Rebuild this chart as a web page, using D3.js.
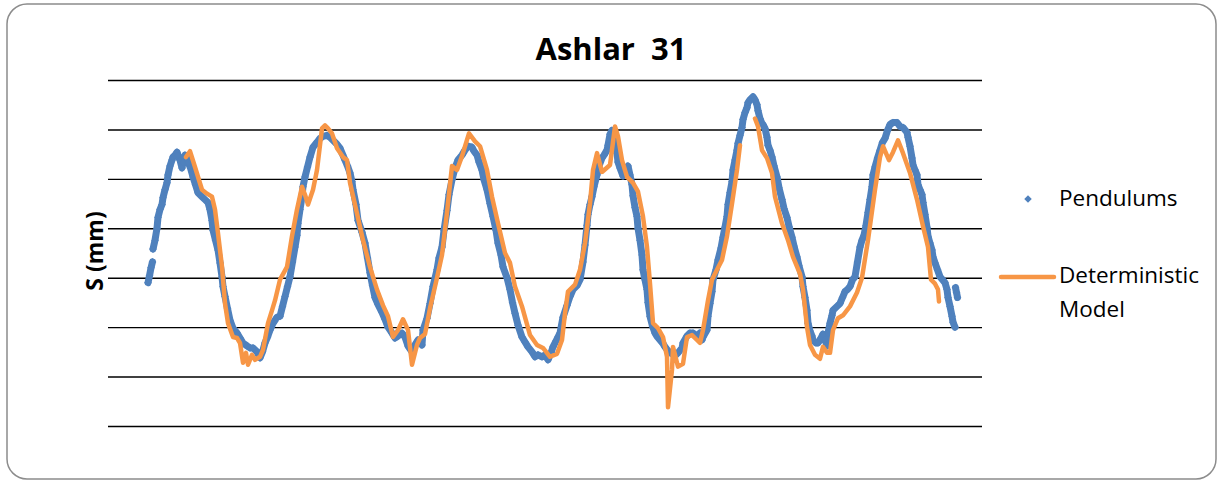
<!DOCTYPE html>
<html>
<head>
<meta charset="utf-8">
<script src="https://cdn.jsdelivr.net/npm/d3@7"></script>
<style>
  body { margin: 0; background: #fff; }
  svg { display: block; }
</style>
</head>
<body>
<div id="chart"></div>
<script>
// Chart text
const chartTitle = "Ashlar  31";
const yLabel = "S (mm)";
const seriesNames = ["Pendulums", "Deterministic Model"];

// Value axis gridlines (no tick labels shown in the original)
const gridTicks = [-200, -150, -100, -50, 0, 50, 100, 150];
const timeDomain = [0, 874];

// Pendulum readings (scatter) - null marks a gap between clusters
const pendT = [40, 41.5, 43, 44.5, 44.7, 45, 47, 49, 50, 52, 54, 55, 57, 59, 60, 62, 64, 65, 67, 69,
  70, 72, 74, 75, 77, 79, 80, 82.5, 85, 87.5, 90, 94, 97, 100, 102, 104, 105, 107.5, 110, 112,
  114, 115, 117, 119.5, 122, 125, 129, 132, 135, 139, 142, 145, 149, 152, 154.5, 157, 159.5, 162, 165, 169,
  172, 174.5, 177, 179.5, 182, 184.5, 187, 189, 190, 192, 194, 195, 197, 199.5, 202, 205, 209, 212, 215, 219,
  222, 225, 229, 232, 234.5, 237, 239.5, 242, 244, 245, 248, 250, 254, 257, 259.5, 262, 264.5, 267, 270, 274,
  277, 280, 284, 287, 290, 294, 297, 300, 304, 307, 310, 314, 315, 319, 322, 325, 329, 331, 334, 336,
  339, 341, 344, 347, 350, 354, 357, 360, 364, 366, 369, 371, 374, 376, 379, 382, 385, 388, 390, 393,
  395, 399, 402, 404.5, 407, 410, 414, 417, 420, 424, 427, 430, 434, 437, 440, 443, 445, 448, 450, 452,
  455, 459, 462, 465, 469, 472, 475, 477, 479, 480, 482, 484, 486, 489, 491, 494, 496, 499, 500, 502,
  504, 505, 507, 509, 510, 512, 515, 520, 522, 524, 525, 527, 529, 530, 532, 534, 535, 537, 539, 540,
  542, 544.5, 547, 549.5, 552, 554.5, 557, 560, 564, 567, 570, 574, 575, 579, 582, 585, 589, 592, 594, 595,
  599, 600, 602, 604, 605, 608, 610, 613, 615, 617, 619, 620, 622, 624, 625, 627, 629, 630, 632, 634,
  635, 637, 639, 640, 642, 644, 645, 647, 649, 650, 652, 654, 655, 657, 659, 660, 662, 664, 666, 669,
  671, 674, 676, 679, 681, 684, 686, 689, 691, 694, 695, 697, 699, 700, 702, 704, 705, 708, 710, 713,
  715, 717, 719, 720, 722, 724, 725, 729, 732, 734.5, 737, 739.5, 742, 744.5, 747, 749.5, 752, 754, 756, 758,
  760, 762, 764, 765, 767, 769.5, 772, 774.5, 777, 779.5, 782, 785, 789, 792, 795, 799, 800, 802, 804, 805,
  807, 809, 810, 812, 814, 815, 817, 819, 820, 822, 824, 825, 827, 829.5, 832, 834.5, 837, 839, 840, 842,
  844, 845, 847, 847.2, 847.5, 848.5, 849.5];
const pendS = [-55, -48, -40, -34, null, -21, -12, 0, 11, 19, 24, 31, 39, 46, 54, 63, 69, 72, 74, 77,
  74, 69, 61, 67, 74, 72, 67, 61, 52, 44, 36, 32, 29, 26, 19, 8, -2, -12, -22, -35,
  -49, -59, -69, -81, -93, -101, -106, -111, -116, -119, -121, -121, -125, -131, -125, -116, -110, -103, -96, -90,
  -89, -79, -69, -59, -49, -34, -19, -7, 5, 19, 32, 42, 52, 62, 72, 82, 87, 91, 93, 94,
  92, 89, 85, 81, 75, 69, 63, 56, 47, 39, 24, 8, -4, -15, -30, -45, -58, -70, -77, -85,
  -92, -100, -106, -111, -109, -106, -110, -119, -125, -118, -113, -118, -103, -91, -76, -59, -42, -30, -19, -2,
  18, 34, 49, 61, 69, 74, 79, 83, 82, 78, 74, 67, 59, 49, 39, 25, 12, -2, -15, -27,
  -39, -50, -62, -75, -86, -98, -110, -115, -120, -125, -130, -128, -130, -128, -133, -126, -120, -114, -110, -106,
  -90, -78, -69, -62, -58, -52, -34, -17, 3, 14, 24, 32, 42, 54, 63, 71, 74, 79, 84, 95,
  99, 97, 87, 76, 67, 61, 53, 63, 54, 44, 33, 21, 12, 0, -12, -27, -42, -52, -62, -75,
  -89, -99, -106, -110, -113, -116, -120, -124, -127, -129, -126, -121, -116, -109, -106, -106, -109, -106, -113, -110,
  -103, -89, -76, -64, -52, -42, -32, -20, -9, 1, 12, 24, 36, 47, 59, 69, 79, 86, 94, 102,
  110, 117, 122, 127, 130, 132, 133, 130, 125, 119, 111, 106, 105, 101, 92, 84, 79, 72, 63, 52,
  41, 29, 20, 11, 2, -9, -18, -29, -38, -49, -59, -70, -83, -96, -104, -109, -113, -116, -116, -111,
  -107, -113, -119, -106, -96, -88, -83, -79, -76, -70, -64, -62, -59, -52, -49, -34, -19, -12, -7, 3,
  16, 29, 42, 54, 62, 71, 79, 87, 91, 99, 105, 107, 107, 103, 102, 97, 92, 83, 71, 64,
  59, 54, 44, 39, 34, 26, 14, 1, -8, -15, -22, -29, -35, -42, -49, -52, -55, -62, -70, -79,
  -89, -95, -100, null, -60, -65, -70];

// Deterministic model - null marks the missing stretch near the 5th peak
const modelT = [78, 82, 87, 94, 99, 104, 107, 110, 114, 117, 120, 125, 129, 132, 135, 138, 140, 144, 147, 152,
  155, 160, 164, 167, 172, 179, 184, 189, 194, 197, 200, 205, 209, 214, 217, 220, 224, 229, 235, 239,
  242, 249, 255, 262, 269, 275, 280, 285, 290, 295, 300, 304, 309, 312, 317, 322, 329, 334, 339, 344,
  349, 354, 361, 367, 372, 379, 384, 390, 397, 402, 407, 414, 422, 429, 435, 442, 449, 454, 457, 460,
  467, 472, 477, 482, 485, 489, 494, 502, 507, 510, 514, 519, 525, 530, 535, 539, 542, 545, 550, 555,
  559, 560, 564, 565, 570, 575, 579, 584, 589, 592, 595, 600, 604, 609, 614, 619, 624, 629, 632, 640,
  647, 650, 654, 659, 664, 667, 674, 680, 685, 692, 695, 699, 702, 707, 712, 715, 719, 722, 725, 730,
  735, 742, 749, 754, 760, 767, 772, 775, 781, 785, 790, 795, 802, 809, 815, 820, 823, 827, 830, 831];
const modelS = [72, 78, 62, 39, 35, 32, 19, -5, -39, -76, -96, -110, -111, -116, -136, -126, -138, -128, -133, -130,
  -123, -96, -83, -73, -52, -39, -8, 19, 42, 34, 24, 39, 59, 101, 104, 101, 96, 81, 72, 69,
  46, 15, -12, -39, -62, -78, -89, -110, -103, -92, -103, -138, -118, -111, -107, -81, -50, -27, 16, 63,
  59, 73, 96, 88, 83, 59, 32, 5, -25, -35, -59, -79, -108, -118, -121, -130, -127, -113, -86, -64,
  -57, -42, -15, 25, 59, 76, 57, 64, 103, 93, 69, 52, 46, 37, 12, -19, -56, -96, -101, -110,
  -130, -181, -143, -120, -140, -137, -110, -108, -113, -116, -103, -73, -52, -42, -32, -8, 25, 59, 84, null,
  111, 103, 79, 71, 56, 32, 5, -12, -29, -46, -62, -100, -118, -128, -132, -120, -126, -126, -103, -91,
  -88, -79, -65, -50, -12, 39, 72, 83, 69, 77, 89, 76, 56, 29, 2, -19, -52, -56, -62, -74];

const colors = { pend: "#4f81bd", model: "#f79646", grid: "#000", frame: "#8c8c8c" };

const width = 1219, height = 481;
const plot = { left: 108, right: 982, top: 80, bottom: 426 };

const svg = d3.select("#chart").append("svg")
  .attr("width", width)
  .attr("height", height)
  .style("font-family", "'Open Sans', 'Liberation Sans', sans-serif");

// Chart area frame
svg.append("rect")
  .attr("x", 7).attr("y", 4)
  .attr("width", 1209).attr("height", 475)
  .attr("rx", 20).attr("ry", 20)
  .attr("fill", "#fff")
  .attr("stroke", colors.frame)
  .attr("stroke-width", 1.5);

const x = d3.scaleLinear().domain(timeDomain).range([plot.left, plot.right]);
const y = d3.scaleLinear().domain([gridTicks[0], gridTicks[gridTicks.length - 1]]).range([plot.bottom, plot.top]);

// Horizontal gridlines from the y axis ticks
const yAxis = d3.axisLeft(y).tickValues(gridTicks).tickSize(-(plot.right - plot.left)).tickFormat("");
const gAxis = svg.append("g").attr("transform", `translate(${plot.left},0)`).call(yAxis);
gAxis.select(".domain").remove();
gAxis.selectAll(".tick line").attr("stroke", colors.grid).attr("stroke-width", 1.4);

const pendData = pendT.map((t, i) => ({ t, s: pendS[i] }));
const modelData = modelT.map((t, i) => ({ t, s: modelS[i] }));

// Pendulum scatter: dense trace of samples plus diamond markers
const trace = d3.line()
  .defined(d => d.s !== null)
  .x(d => x(d.t))
  .y(d => y(d.s));

svg.append("path")
  .datum(pendData)
  .attr("d", trace)
  .attr("fill", "none")
  .attr("stroke", colors.pend)
  .attr("stroke-width", 7)
  .attr("stroke-linejoin", "round")
  .attr("stroke-linecap", "round");

const diamond = d3.symbol().type(d3.symbolSquare).size(30);
svg.append("g")
  .selectAll("path")
  .data(pendData.filter(d => d.s !== null))
  .join("path")
  .attr("d", diamond)
  .attr("transform", d => `translate(${x(d.t)},${y(d.s)}) rotate(45)`)
  .attr("fill", colors.pend);

// Model line on top
svg.append("path")
  .datum(modelData)
  .attr("d", trace)
  .attr("fill", "none")
  .attr("stroke", colors.model)
  .attr("stroke-width", 4.5)
  .attr("stroke-linejoin", "round")
  .attr("stroke-linecap", "round");

// Title
svg.append("text")
  .attr("x", 611).attr("y", 60)
  .attr("text-anchor", "middle")
  .style("white-space", "pre")
  .attr("font-size", 31)
  .attr("font-weight", "bold")
  .attr("fill", "#000")
  .text(chartTitle);

// Y axis title
svg.append("text")
  .attr("transform", "translate(103,251) rotate(-90)")
  .attr("text-anchor", "middle")
  .attr("font-size", 23)
  .attr("font-weight", "bold")
  .attr("fill", "#000")
  .text(yLabel);

// Legend
const legend = svg.append("g");
legend.append("path")
  .attr("d", d3.symbol().type(d3.symbolSquare).size(28))
  .attr("transform", "translate(1028,199) rotate(45)")
  .attr("fill", colors.pend);
legend.append("text")
  .attr("x", 1059).attr("y", 206)
  .attr("font-size", 22.5)
  .attr("fill", "#000")
  .text(seriesNames[0]);

legend.append("line")
  .attr("x1", 1001).attr("x2", 1054)
  .attr("y1", 277).attr("y2", 277)
  .attr("stroke", colors.model)
  .attr("stroke-width", 4.5)
  .attr("stroke-linecap", "round");
const words = seriesNames[1].split(" ");
const lt = legend.append("text")
  .attr("x", 1059).attr("y", 283)
  .attr("font-size", 22.5)
  .attr("fill", "#000");
lt.selectAll("tspan")
  .data(words)
  .join("tspan")
  .attr("x", 1059)
  .attr("dy", (d, i) => i === 0 ? 0 : 34)
  .text(d => d);
</script>
</body>
</html>
